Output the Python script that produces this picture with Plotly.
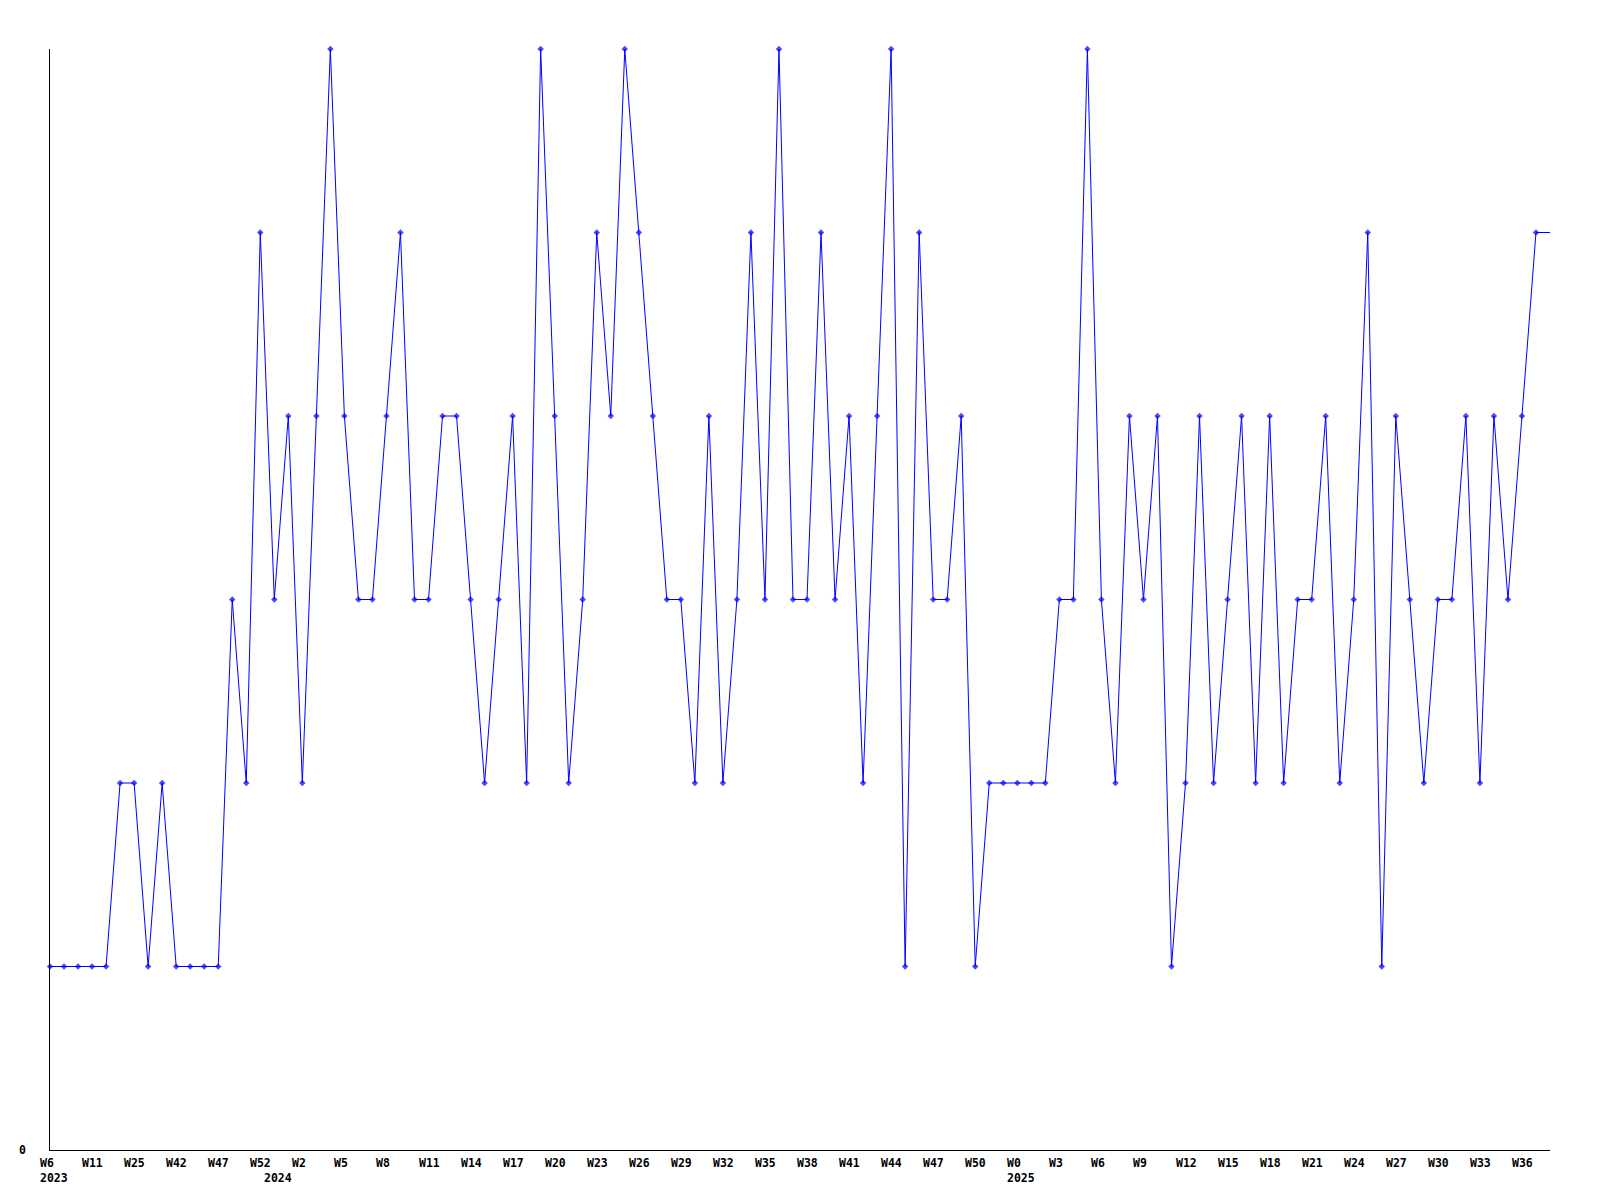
import plotly.graph_objects as go

# --- data ---------------------------------------------------------------
weeks = (
    ["W6", "W7", "W9", "W11", "W14", "W20", "W25", "W30", "W36", "W42",
     "W43", "W45", "W47", "W48", "W50", "W52"]
    + ["W%d" % w for w in range(0, 53)]
    + ["W%d" % w for w in range(0, 39)]
)
years = ["2023"] * 16 + ["2024"] * 53 + ["2025"] * 39

values = [
    1, 1, 1, 1, 1, 2, 2, 1, 2, 1,
    1, 1, 1, 3, 2, 5, 3, 4, 2, 4,
    6, 4, 3, 3, 4, 5, 3, 3, 4, 4,
    3, 2, 3, 4, 2, 6, 4, 2, 3, 5,
    4, 6, 5, 4, 3, 3, 2, 4, 2, 3,
    5, 3, 6, 3, 3, 5, 3, 4, 2, 4,
    6, 1, 5, 3, 3, 4, 1, 2, 2, 2,
    2, 2, 3, 3, 6, 3, 2, 4, 3, 4,
    1, 2, 4, 2, 3, 4, 2, 4, 2, 3,
    3, 4, 2, 3, 5, 1, 4, 3, 2, 3,
    3, 4, 2, 4, 3, 4, 5, 5,
]

y_tick_vals = [0]
y_tick_text = ["0"]
label_step = 3

# --- figure -------------------------------------------------------------
n = len(values)
idx = list(range(n))
marker_sizes = [5] * (n - 1) + [0]

fig = go.Figure()
fig.add_trace(go.Scatter(
    x=idx, y=values, mode="lines+markers",
    line=dict(color="#0000ff", width=1),
    marker=dict(symbol="diamond", size=marker_sizes, color="#0000ff",
                line=dict(width=0)),
    cliponaxis=False, hoverinfo="skip", showlegend=False,
))

font = dict(family="DejaVu Sans Mono", size=11.5, color="#000000", weight="bold")
annotations = []
for i in range(0, n, label_step):
    annotations.append(dict(
        x=i, y=0, xref="x", yref="paper", text=weeks[i], showarrow=False,
        xanchor="left", yanchor="top", xshift=-12, yshift=-4, font=font,
    ))
seen = set()
for i, yr in enumerate(years):
    if yr not in seen:
        seen.add(yr)
        annotations.append(dict(
            x=i, y=0, xref="x", yref="paper", text=yr, showarrow=False,
            xanchor="left", yanchor="top", xshift=-12, yshift=-19, font=font,
        ))
for v, t in zip(y_tick_vals, y_tick_text):
    annotations.append(dict(
        x=0, y=v, xref="paper", yref="y", text=t, showarrow=False,
        xanchor="right", yanchor="middle", xshift=-22, font=font,
    ))

fig.update_layout(
    width=1584, height=1184,
    margin=dict(l=42, r=42, t=41, b=42, pad=0),
    paper_bgcolor="white", plot_bgcolor="white",
    xaxis=dict(range=[0, n - 1], showgrid=False, zeroline=False,
               showline=True, linecolor="black", linewidth=1,
               showticklabels=False, ticks=""),
    yaxis=dict(range=[0, 6], showgrid=False, zeroline=False,
               showline=True, linecolor="black", linewidth=1,
               showticklabels=False, ticks=""),
    annotations=annotations,
)

fig.write_html("out.html")
